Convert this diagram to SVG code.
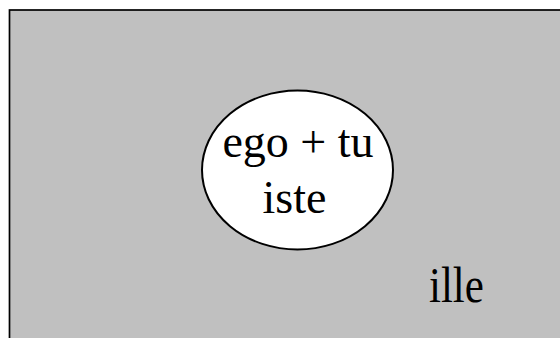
<svg xmlns="http://www.w3.org/2000/svg" width="560" height="338" viewBox="0 0 560 338">
<style>
.t{font-family:"Liberation Serif","Times New Roman",serif;font-size:46px;fill:#000}
</style>
<rect x="0" y="0" width="560" height="338" fill="#fff"/>
<g id="ille-region">
<rect x="9.5" y="10" width="560" height="340" fill="#c0c0c0" stroke="#000" stroke-width="1.7"/>
<text class="t" x="429" y="302" style="font-size:43px" transform="matrix(1 0 0 1.16 0 -48.3)">ille</text>
</g>
<g id="ego-tu">
<ellipse cx="297.5" cy="170" rx="95.5" ry="79.5" fill="#fff" stroke="#000" stroke-width="2"/>
<text class="t" x="298" y="157" text-anchor="middle">ego + tu</text>
<text class="t" x="294.5" y="213" text-anchor="middle">iste</text>
</g>
<g id="connectors"/>
</svg>
